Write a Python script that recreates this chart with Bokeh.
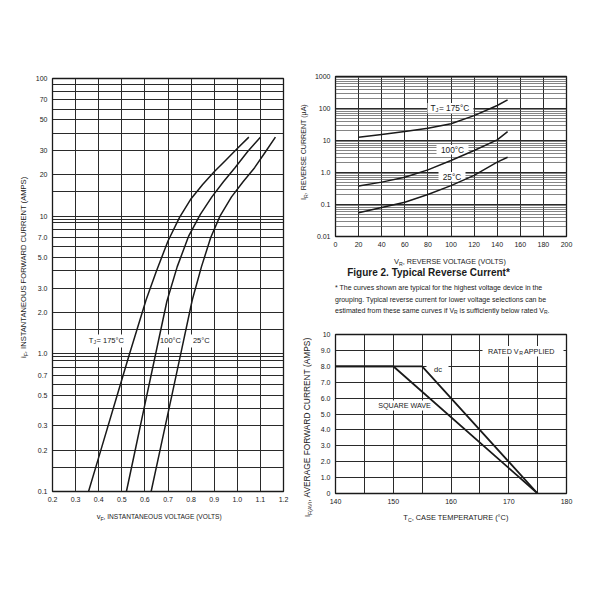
import math
from bokeh.plotting import figure
from bokeh.models import Label, FixedTicker, BoxAnnotation, Div
from bokeh.layouts import row, column
from bokeh.embed import file_html
from bokeh.resources import INLINE

FONT = "Liberation Sans"
INK = "#1a1a1a"

# ---------------- Figure 1 data: forward characteristics ----------------
vf_175 = [0.356, 0.40, 0.47, 0.53, 0.605, 0.65, 0.70, 0.75, 0.80, 0.85, 0.90, 0.95, 1.00, 1.05]
if_175 = [0.1, 0.177, 0.44, 0.955, 2.46, 4.0, 6.6, 9.8, 13.4, 17.0, 21.0, 25.5, 31.0, 37.5]
vf_100 = [0.520, 0.56, 0.60, 0.64, 0.695, 0.74, 0.79, 0.84, 0.89, 0.94, 0.99, 1.045, 1.10]
if_100 = [0.1, 0.207, 0.43, 0.887, 2.4, 4.3, 7.2, 10.3, 13.8, 17.8, 22.5, 29.5, 37.5]
vf_25 = [0.627, 0.67, 0.72, 0.76, 0.805, 0.845, 0.885, 0.925, 0.975, 1.025, 1.075, 1.12, 1.165]
if_25 = [0.1, 0.216, 0.53, 1.09, 2.46, 4.3, 7.0, 10.0, 13.8, 17.8, 22.5, 29.0, 37.5]

f1_xticks = [0.2, 0.3, 0.4, 0.5, 0.6, 0.7, 0.8, 0.9, 1.0, 1.1, 1.2]
f1_xlabels = ["0.2", "0.3", "0.4", "0.5", "0.6", "0.7", "0.8", "0.9", "1.0", "1.1", "1.2"]
f1_yticks = [0.1, 0.2, 0.3, 0.5, 0.7, 1, 2, 3, 5, 7, 10, 20, 30, 50, 70, 100]
f1_ylabels = ["0.1", "0.2", "0.3", "0.5", "0.7", "1.0", "2.0", "3.0", "5.0", "7.0",
              "10", "20", "30", "50", "70", "100"]
f1_yminor = [0.15, 0.4, 0.6, 0.8, 0.9, 0.95, 1.5, 4, 6, 8, 9, 9.5, 15, 40, 60, 80, 90]

# ---------------- Figure 2 data: reverse current ----------------
vr = [20, 40, 60, 80, 100, 120, 140, 149]
ir_175 = [12.7, 15.5, 19.1, 24.3, 33.2, 60, 124, 185]
ir_100 = [0.38, 0.5, 0.71, 1.21, 2.37, 4.87, 10.5, 19]
ir_25 = [0.055, 0.08, 0.118, 0.205, 0.39, 0.81, 2.1, 3.0]

f2_xticks = [0, 20, 40, 60, 80, 100, 120, 140, 160, 180, 200]
f2_yticks = [0.01, 0.1, 1, 10, 100, 1000]
f2_ylabels = ["0.01", "0.1", "1.0", "10", "100", "1000"]
f2_yminor = [k * 10.0 ** e for e in range(-2, 3) for k in range(2, 10)]

# ---------------- Figure 3 data: current derating ----------------
tc_dc = [140, 155, 175]
iav_dc = [8, 8, 0]
tc_sq = [140, 150, 175]
iav_sq = [8, 8, 0]
f3_xticks = [140, 150, 160, 170, 180]
f3_xminor = [145, 155, 165, 175]
f3_yticks = [0, 1, 2, 3, 4, 5, 6, 7, 8, 9, 10]
f3_ylabels = ["0", "1.0", "2.0", "3.0", "4.0", "5.0", "6.0", "7.0", "8.0", "9.0", "10"]


def base(width, height, borders, x_range, y_range, y_log=False):
    l, r, t, b = borders
    p = figure(width=width, height=height, x_range=x_range, y_range=y_range,
               y_axis_type="log" if y_log else "linear",
               output_backend="svg", toolbar_location=None,
               min_border_left=l, min_border_right=r, min_border_top=t, min_border_bottom=b)
    p.background_fill_color = "white"
    p.border_fill_color = "white"
    p.outline_line_color = INK
    p.outline_line_width = 1.3
    for ax in (p.xaxis[0], p.yaxis[0]):
        ax.axis_line_color = None
        ax.major_tick_line_color = None
        ax.minor_tick_line_color = None
        ax.major_tick_out = 0
        ax.major_tick_in = 0
        ax.minor_tick_out = 0
        ax.minor_tick_in = 0
        ax.major_label_text_font = FONT
        ax.major_label_text_font_size = "7px"
        ax.major_label_text_color = INK
    p.xaxis[0].major_label_standoff = 5
    p.yaxis[0].major_label_standoff = 5
    for g in (p.xgrid[0], p.ygrid[0]):
        g.grid_line_color = "#2a2a2a"
        g.grid_line_width = 1
        g.grid_line_alpha = 1
        g.minor_grid_line_color = "#2a2a2a"
        g.minor_grid_line_width = 1
    return p


def txt(p, sx, sy, text, size, align="left"):
    p.add_layout(Label(x=sx, y=sy, x_units="screen", y_units="screen", text=text,
                       text_font=FONT, text_font_size=f"{size}px", text_color=INK,
                       text_baseline="middle", text_align=align))


def wbox(p, l, r, b, t):
    p.add_layout(BoxAnnotation(left=l, right=r, bottom=b, top=t,
                               left_units="screen", right_units="screen",
                               bottom_units="screen", top_units="screen",
                               fill_color="white", fill_alpha=1, line_color=None,
                               level="underlay"))


def rich(big, sub, rest, big_px, sub_px, rest_px):
    return (f'<span style="font-size:{big_px}px">{big}</span>'
            f'<span style="font-size:{sub_px}px;position:relative;top:1.6px">{sub}</span>'
            f'<span style="font-size:{rest_px}px">{rest}</span>')


def xlabel_div(width, height, left, top, html):
    return Div(text=(f'<div style="position:relative;width:{width}px;height:{height}px;">'
                     f'<div style="position:absolute;left:{left}px;top:{top}px;white-space:nowrap;'
                     f'line-height:10px;font-family:\'{FONT}\',Arial,sans-serif;color:{INK};">'
                     f'{html}</div></div>'),
               width=width, height=height, margin=(0, 0, 0, 0))


def ylabel_div(width, height, center_x, start_y, html):
    lh = 9
    return Div(text=(f'<div style="position:relative;width:{width}px;height:{height}px;">'
                     f'<div style="position:absolute;left:{center_x - lh / 2}px;top:{start_y}px;'
                     f'white-space:nowrap;line-height:{lh}px;transform-origin:0 0;'
                     f'transform:rotate(-90deg);font-family:\'{FONT}\',Arial,sans-serif;color:{INK};">'
                     f'{html}</div></div>'),
               width=width, height=height, margin=(0, 0, 0, 0))


# ================= Figure 1 =================
p1 = base(261, 509, (22, 8, 78, 18), (0.2, 1.2), (0.1, 100), y_log=True)
t1x = FixedTicker(ticks=f1_xticks)
p1.xaxis[0].ticker = t1x
p1.xaxis[0].major_label_overrides = dict(zip(f1_xticks, f1_xlabels))
p1.xgrid[0].ticker = t1x
t1y = FixedTicker(ticks=f1_yticks, minor_ticks=f1_yminor)
p1.yaxis[0].ticker = t1y
p1.yaxis[0].major_label_overrides = dict(zip(f1_yticks, f1_ylabels))
p1.ygrid[0].ticker = t1y

wbox(p1, 34, 76, 144, 157)
wbox(p1, 106, 130, 144, 157)
wbox(p1, 137, 160, 144, 157)
for xs, ys in ((vf_175, if_175), (vf_100, if_100), (vf_25, if_25)):
    p1.line(xs, ys, line_color=INK, line_width=1.5, line_join="round")
txt(p1, 36.3, 151, "T", 7.5)
txt(p1, 40.9, 149.3, "J", 5.2)
txt(p1, 44.0, 151, " = 175°C", 7.5)
txt(p1, 118, 151, "100°C", 7.5, "center")
txt(p1, 148.8, 151, "25°C", 7.5, "center")

xlab1 = xlabel_div(261, 20, 66.7, 1,
                   rich("v", "F", ", INSTANTANEOUS VOLTAGE (VOLTS)", 7.5, 5.2, 6.6))
ylab1 = ylabel_div(30, 529, 22, 358,
                   rich("i", "F", ", INSTANTANEOUS FORWARD CURRENT (AMPS)", 7.5, 5.2, 7.6))

# ================= Figure 2 =================
p2 = base(265, 252, (24, 10, 76, 16), (0, 200), (0.01, 1000), y_log=True)
t2x = FixedTicker(ticks=f2_xticks)
p2.xaxis[0].ticker = t2x
p2.xgrid[0].ticker = t2x
t2y = FixedTicker(ticks=f2_yticks, minor_ticks=f2_yminor)
p2.yaxis[0].ticker = t2y
p2.yaxis[0].major_label_overrides = dict(zip(f2_yticks, f2_ylabels))
p2.ygrid[0].ticker = t2y
p2.ygrid[0].minor_grid_line_width = 0.7
p2.ygrid[0].minor_grid_line_color = "#505050"

wbox(p2, 92, 138, 123, 133.5)
wbox(p2, 101, 133, 82, 91.5)
wbox(p2, 103, 130, 55, 64.5)
for ys in (ir_175, ir_100, ir_25):
    p2.line(vr, ys, line_color=INK, line_width=1.5, line_join="round")
txt(p2, 95, 128.3, "T", 8.3)
txt(p2, 100.1, 126.6, "J", 5.8)
txt(p2, 103.4, 128.3, " = 175°C", 8.3)
txt(p2, 117, 87, "100°C", 8.3, "center")
txt(p2, 116.5, 59.7, "25°C", 8.3, "center")

xlab2 = xlabel_div(265, 14, 83, 3,
                   rich("V", "R", ", REVERSE VOLTAGE (VOLTS)", 7.5, 5.2, 7.2))
ylab2 = ylabel_div(20, 266, 11.3, 200,
                   rich("I", "R", ", REVERSE CURRENT (µA)", 7.5, 5.2, 7.1))

# ================= caption =================
sub = '<span style="font-size:5px;position:relative;top:1.4px">R</span>'
cap_html = (
    f'<div style="font-family:\'{FONT}\',Arial,sans-serif;color:{INK};padding-left:44px;width:231px;">'
    '<div style="font-weight:bold;font-size:10px;line-height:14px;text-align:center;white-space:nowrap;">'
    'Figure 2. Typical Reverse Current*</div>'
    '<div style="font-size:7px;line-height:11.5px;margin-top:2px;white-space:nowrap;">'
    '* The curves shown are typical for the highest voltage device in the<br>'
    'grouping. Typical reverse current for lower voltage selections can be<br>'
    f'estimated from these same curves if V{sub} is sufficiently below rated V{sub}.'
    '</div></div>'
)
cap = Div(text=cap_html, width=285, height=52, margin=(0, 0, 0, 0))

# ================= Figure 3 =================
p3 = base(265, 191, (24, 10, 16, 16), (140, 180), (0, 10))
t3x = FixedTicker(ticks=f3_xticks, minor_ticks=f3_xminor)
p3.xaxis[0].ticker = t3x
p3.xgrid[0].ticker = t3x
t3y = FixedTicker(ticks=f3_yticks)
p3.yaxis[0].ticker = t3y
p3.yaxis[0].major_label_overrides = dict(zip(f3_yticks, f3_ylabels))
p3.ygrid[0].ticker = t3y

wbox(p3, 147, 228, 137, 147.5)
wbox(p3, 91, 113, 118, 131)
wbox(p3, 40, 98, 83, 93)
p3.line(tc_dc, iav_dc, line_color=INK, line_width=1.8)
p3.line(tc_sq, iav_sq, line_color=INK, line_width=1.8)
txt(p3, 152.5, 142.3, "RATED V", 7.2)
txt(p3, 183.7, 140.6, "R", 5.2)
txt(p3, 188.5, 142.3, " APPLIED", 7.2)
txt(p3, 102.5, 123.7, "dc", 7.5, "center")
txt(p3, 69, 88, "SQUARE WAVE", 7.2, "center")

xlab3 = xlabel_div(265, 16, 92.3, 2,
                   rich("T", "C", ", CASE TEMPERATURE (°C)", 7.5, 5.2, 7.4))
ylab3 = ylabel_div(20, 207, 15.7, 199,
                   rich("I", "F(AV)", ", AVERAGE FORWARD CURRENT (AMPS)", 7.5, 5.2, 8.4))

left = row(ylab1, column(p1, xlab1))
right = column(row(ylab2, column(p2, xlab2)), cap, row(ylab3, column(p3, xlab3)))
layout = row(left, right)
open("out.html", "w").write(file_html(layout, INLINE))
